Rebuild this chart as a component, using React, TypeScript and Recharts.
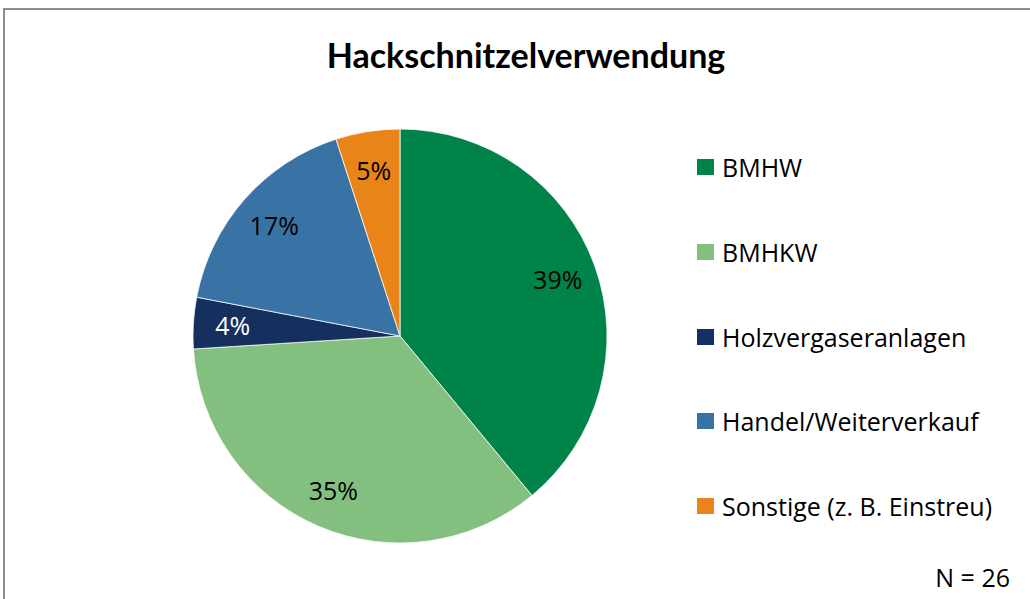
import React from 'react';
import { PieChart, Pie, Cell } from 'recharts';

const categories = ['BMHW', 'BMHKW', 'Holzvergaseranlagen', 'Handel/Weiterverkauf', 'Sonstige (z. B. Einstreu)'];
const shares = [39, 35, 4, 17, 5];
const colors = ['#008348', '#83c080', '#15305f', '#3973a5', '#e98418'];
const labelColors = ['#000000', '#000000', '#ffffff', '#000000', '#000000'];
const title = 'Hackschnitzelverwendung';
const note = 'N = 26';

const data = categories.map((name, i) => ({ name, value: shares[i] }));
const FONT = '"Open Sans", Lato, sans-serif';
const TITLE_FONT = 'Lato, "Open Sans", sans-serif';
const RAD = Math.PI / 180;

const renderLabel = (props: any) => {
  const { cx, cy, midAngle, outerRadius, index, value } = props;
  const r = outerRadius * 0.81;
  const x = cx + r * Math.cos(-midAngle * RAD);
  const y = cy + r * Math.sin(-midAngle * RAD);
  return (
    <text x={x} y={y} fill={labelColors[index]} textAnchor="middle" dominantBaseline="central"
      style={{ fontFamily: FONT, fontSize: 25 }}>
      {value}%
    </text>
  );
};

export default function App() {
  return (
    <div style={{ position: 'absolute', left: 0, top: 0, width: 1030, height: 599, overflow: 'hidden', background: '#fff' }}>
      <div style={{ position: 'absolute', left: 3, top: 8, width: 1100, height: 700, border: '2px solid #8c8c8c', boxSizing: 'border-box' }} />
      <div style={{ position: 'absolute', left: 0, top: 32, width: 1052, textAlign: 'center', fontFamily: TITLE_FONT, fontWeight: 700, fontSize: 34, color: '#000', lineHeight: '46px' }}>
        {title}
      </div>
      <div style={{ position: 'absolute', left: 0, top: 0 }}>
        <PieChart width={1030} height={599} margin={{ top: 0, right: 0, bottom: 0, left: 0 }}>
          <Pie data={data} dataKey="value" nameKey="name" cx={400} cy={336} outerRadius={207}
            startAngle={90} endAngle={-270} stroke="#ffffff" strokeWidth={0.75}
            label={renderLabel} labelLine={false} isAnimationActive={false}>
            {data.map((d, i) => <Cell key={d.name} fill={colors[i]} />)}
          </Pie>
        </PieChart>
      </div>
      <div style={{ position: 'absolute', left: 697, top: 125, width: 330, fontFamily: FONT, fontSize: 25, color: '#000' }}>
        {categories.map((c, i) => (
          <div key={c} style={{ display: 'flex', alignItems: 'center', height: 84.7 }}>
            <div style={{ width: 17, height: 16, background: colors[i], marginRight: 8, flexShrink: 0 }} />
            <span style={{ lineHeight: '26px', whiteSpace: 'nowrap' }}>{c}</span>
          </div>
        ))}
      </div>
      <div style={{ position: 'absolute', left: 880, top: 562, width: 130, textAlign: 'right', fontFamily: FONT, fontSize: 25, color: '#000', lineHeight: '30px', whiteSpace: 'nowrap' }}>
        {note}
      </div>
    </div>
  );
}
